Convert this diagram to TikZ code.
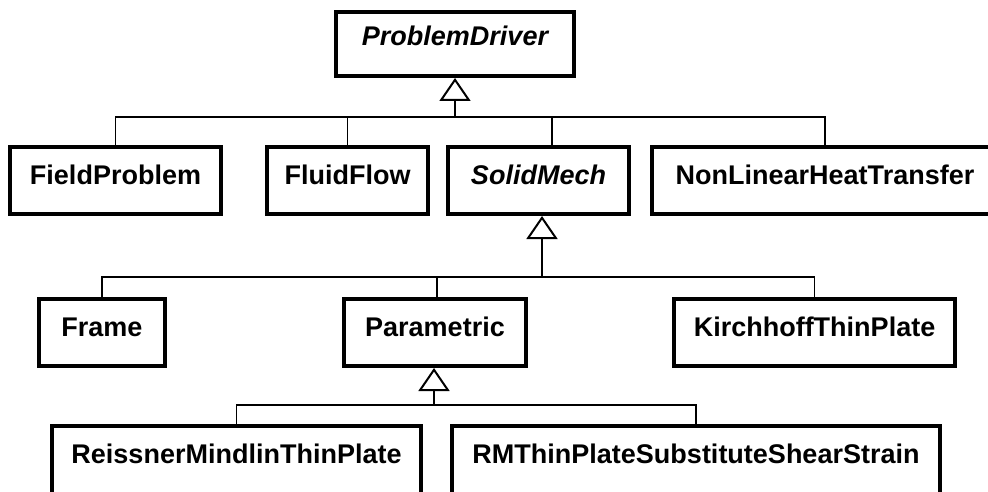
\documentclass[tikz,border=0pt]{standalone}
\usepackage{fontspec}
\setmainfont{Liberation Sans}
\usetikzlibrary{arrows.meta}
\begin{document}
\begin{tikzpicture}[x=1pt,y=-1pt,
  cls/.style={draw, line width=4pt, inner sep=0pt, fill=white,
    text height=19pt, text depth=10pt,
    font=\fontsize{27}{32}\selectfont\bfseries},
  abstractcls/.style={cls, font=\fontsize{27}{32}\selectfont\bfseries\itshape},
  link/.style={line width=1.8pt},
  inherit/.style={line width=2pt,
    -{Triangle[open, length=23pt, width=31pt, line width=2pt]}}
]
\useasboundingbox (0,0) rectangle (988,492);

% class boxes
\node[abstractcls, text height=14pt, minimum width=238pt, minimum height=64pt] (PD) at (455,44) {ProblemDriver};

\node[cls, minimum width=211pt, minimum height=67pt] (FP) at (115.5,180.5) {FieldProblem};
\node[cls, minimum width=161pt, minimum height=67pt] (FF) at (347.5,180.5) {FluidFlow};
\node[abstractcls, minimum width=181pt, minimum height=67pt] (SM) at (538.5,180.5) {SolidMech};
\node[cls, minimum width=346pt, minimum height=67pt] (NL) at (825,180.5) {NonLinearHeatTransfer};

\node[cls, text height=18.5pt, minimum width=126pt, minimum height=67pt] (FR) at (102,332.5) {Frame};
\node[cls, text height=18.5pt, minimum width=182pt, minimum height=67pt] (PA) at (435,332.5) {Parametric};
\node[cls, text height=18.5pt, minimum width=281pt, minimum height=67pt] (KT) at (814.5,332.5) {KirchhoffThinPlate};

% bottom row runs past the lower edge of the page
\node[cls, text height=12.6pt, minimum width=369pt, minimum height=72pt] (RM) at (236.5,462) {ReissnerMindlinThinPlate};
\node[cls, text height=12.6pt, minimum width=487.5pt, minimum height=72pt] (RS) at (696,462) {RMThinPlateSubstituteShearStrain};

% generalisation: ProblemDriver
\coordinate (bus1) at (455,117);
\draw[inherit] (bus1) -- (PD.south);
\draw[link] (FP.north) -- (FP.north |- bus1) -- (NL.north |- bus1) -- (NL.north);
\draw[link] (FF.north) -- (FF.north |- bus1);
\coordinate (smtop) at ([xshift=13.5pt]SM.north);
\draw[link] (smtop) -- (smtop |- bus1);

% generalisation: SolidMech
\coordinate (bus2) at (542,277);
\draw[inherit] (bus2) -- (bus2 |- SM.south);
\draw[link] (FR.north) -- (FR.north |- bus2) -- (KT.north |- bus2) -- (KT.north);
\coordinate (patop) at ([xshift=2pt]PA.north);
\draw[link] (patop) -- (patop |- bus2);

% generalisation: Parametric
\coordinate (bus3) at (434,405);
\draw[inherit] (bus3) -- (bus3 |- PA.south);
\draw[link] (RM.north) -- (RM.north |- bus3) -- (RS.north |- bus3) -- (RS.north);
\end{tikzpicture}
\end{document}
